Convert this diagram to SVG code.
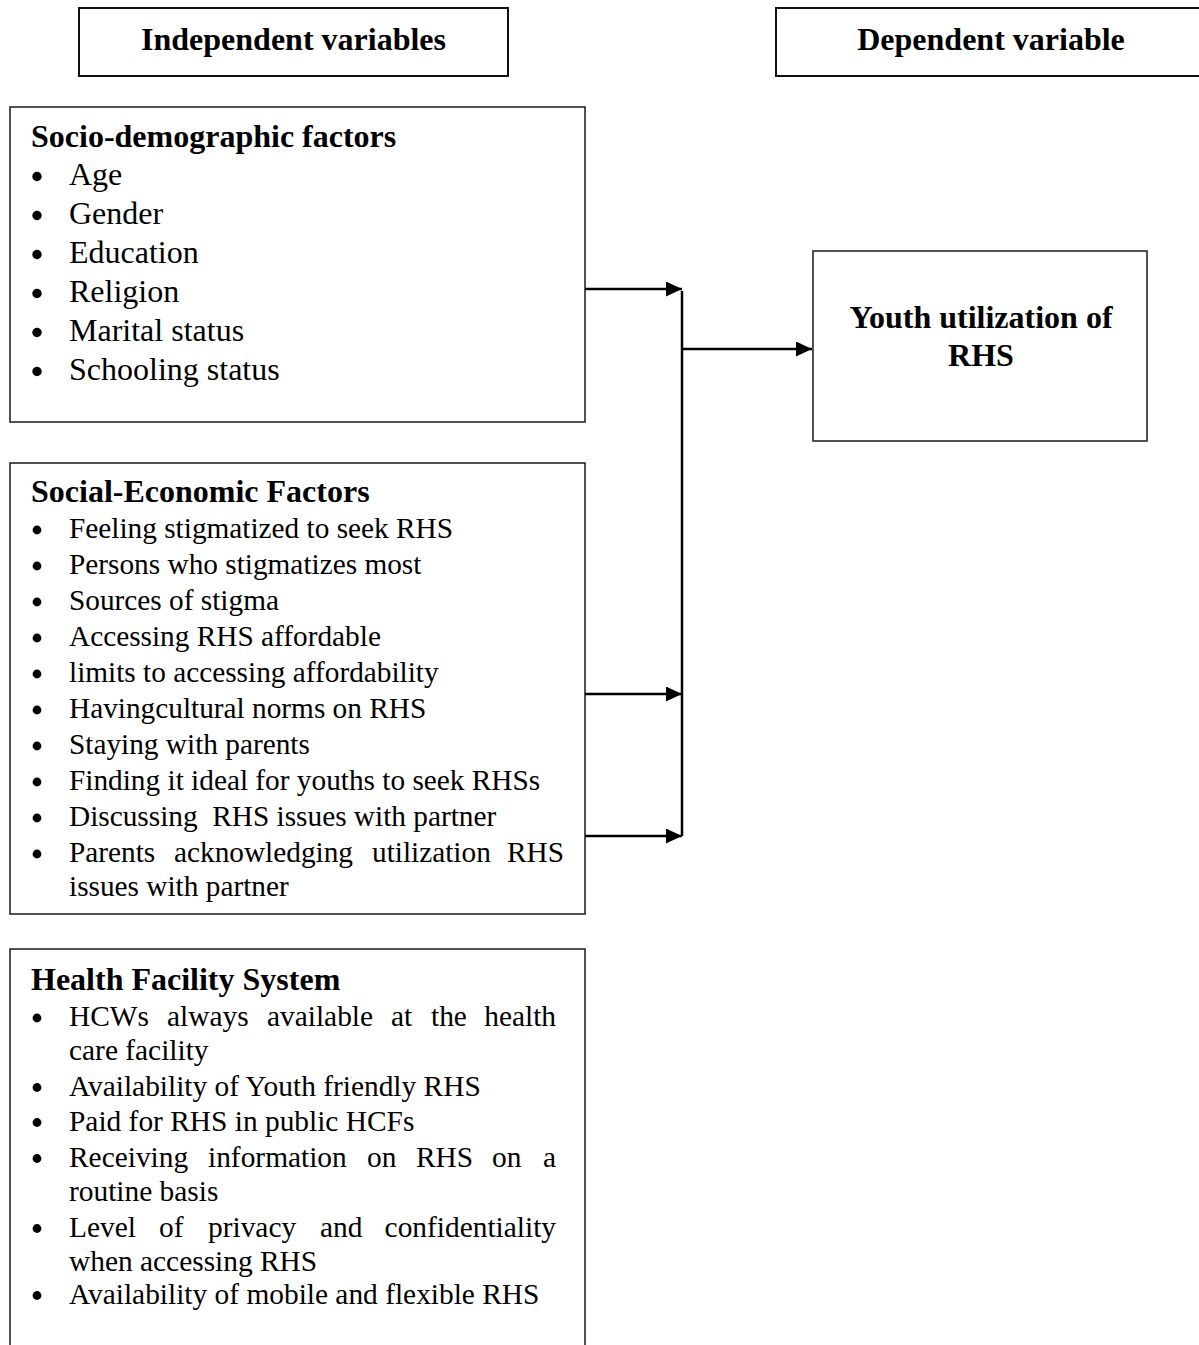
<svg xmlns="http://www.w3.org/2000/svg" width="1199" height="1345" viewBox="0 0 1199 1345">
<defs>
<style>
.box{fill:#fff;stroke:#1a1a1a;stroke-width:1.5}
.hbox{fill:#fff;stroke:#111;stroke-width:2}
.b{font-family:"Liberation Serif","Times New Roman",serif;font-weight:bold;font-size:32px;fill:#000}
.t1{font-family:"Liberation Serif","Times New Roman",serif;font-size:32px;fill:#000}
.t2{font-family:"Liberation Serif","Times New Roman",serif;font-size:29.3px;fill:#000}
.t3{font-family:"Liberation Serif","Times New Roman",serif;font-size:29.4px;fill:#000}
.bul{fill:#000}
.con{stroke:#000;stroke-width:2.5;fill:none}
</style>
<marker id="arr" viewBox="0 0 16 15" refX="16" refY="7.5" markerWidth="16" markerHeight="15" markerUnits="userSpaceOnUse" orient="auto">
<path d="M0,0 L16,7.5 L0,15 z" fill="#000"/>
</marker>
</defs>
<rect width="1199" height="1345" fill="#fff"/>

<g id="independent-header">
<rect class="hbox" x="79" y="8" width="429" height="68"/>
<text class="b" x="293.5" y="50" text-anchor="middle">Independent variables</text>
</g>

<g id="dependent-header">
<rect class="hbox" x="776" y="8" width="440" height="68"/>
<text class="b" x="991" y="50" text-anchor="middle">Dependent variable</text>
</g>

<g id="socio-demographic">
<rect class="box" x="10" y="107" width="575" height="315"/>
<text class="b" x="31" y="146.5">Socio-demographic factors</text>
<g class="bul">
<circle cx="37" cy="176.5" r="4.7"/>
<circle cx="37" cy="215.5" r="4.7"/>
<circle cx="37" cy="254.5" r="4.7"/>
<circle cx="37" cy="293.5" r="4.7"/>
<circle cx="37" cy="332.5" r="4.7"/>
<circle cx="37" cy="371.5" r="4.7"/>
</g>
<text class="t1" x="69" y="185">Age</text>
<text class="t1" x="69" y="224">Gender</text>
<text class="t1" x="69" y="263">Education</text>
<text class="t1" x="69" y="302">Religion</text>
<text class="t1" x="69" y="341">Marital status</text>
<text class="t1" x="69" y="380">Schooling status</text>
</g>

<g id="social-economic">
<rect class="box" x="10" y="463" width="575" height="451"/>
<text class="b" x="31" y="502">Social-Economic Factors</text>
<g class="bul">
<circle cx="37" cy="530" r="4.4"/>
<circle cx="37" cy="566" r="4.4"/>
<circle cx="37" cy="602" r="4.4"/>
<circle cx="37" cy="638" r="4.4"/>
<circle cx="37" cy="674" r="4.4"/>
<circle cx="37" cy="710" r="4.4"/>
<circle cx="37" cy="746" r="4.4"/>
<circle cx="37" cy="782" r="4.4"/>
<circle cx="37" cy="818" r="4.4"/>
<circle cx="37" cy="854" r="4.4"/>
</g>
<text class="t2" x="69" y="538">Feeling stigmatized to seek RHS</text>
<text class="t2" x="69" y="574">Persons who stigmatizes most</text>
<text class="t2" x="69" y="610">Sources of stigma</text>
<text class="t2" x="69" y="646">Accessing RHS affordable</text>
<text class="t2" x="69" y="682">limits to accessing affordability</text>
<text class="t2" x="69" y="718">Havingcultural norms on RHS</text>
<text class="t2" x="69" y="754">Staying with parents</text>
<text class="t2" x="69" y="790">Finding it ideal for youths to seek RHSs</text>
<text class="t2" x="69" y="826" style="white-space:pre">Discussing  RHS issues with partner</text>
<text class="t2" y="862"><tspan x="69">Parents</tspan> <tspan x="174">acknowledging</tspan> <tspan x="372">utilization</tspan> <tspan x="564" text-anchor="end">RHS</tspan></text>
<text class="t2" x="69" y="896">issues with partner</text>
</g>

<g id="health-facility">
<path class="box" d="M10,1350 L10,949 L585,949 L585,1350"/>
<text class="b" x="31" y="990">Health Facility System</text>
<g class="bul">
<circle cx="37" cy="1018" r="4.4"/>
<circle cx="37" cy="1087.5" r="4.4"/>
<circle cx="37" cy="1122.5" r="4.4"/>
<circle cx="37" cy="1158.5" r="4.4"/>
<circle cx="37" cy="1228.5" r="4.4"/>
<circle cx="37" cy="1295.5" r="4.4"/>
</g>
<text class="t3" y="1026"><tspan x="69">HCWs</tspan> <tspan x="167">always</tspan> <tspan x="267">available</tspan> <tspan x="391">at</tspan> <tspan x="431">the</tspan> <tspan x="556" text-anchor="end">health</tspan></text>
<text class="t3" x="69" y="1060">care facility</text>
<text class="t3" x="69" y="1096">Availability of Youth friendly RHS</text>
<text class="t3" x="69" y="1131">Paid for RHS in public HCFs</text>
<text class="t3" y="1167"><tspan x="69">Receiving</tspan> <tspan x="208">information</tspan> <tspan x="367">on</tspan> <tspan x="416">RHS</tspan> <tspan x="492">on</tspan> <tspan x="556" text-anchor="end">a</tspan></text>
<text class="t3" x="69" y="1201">routine basis</text>
<text class="t3" y="1237"><tspan x="69">Level</tspan> <tspan x="159">of</tspan> <tspan x="208">privacy</tspan> <tspan x="320">and</tspan> <tspan x="556" text-anchor="end">confidentiality</tspan></text>
<text class="t3" x="69" y="1271">when accessing RHS</text>
<text class="t3" x="69" y="1304">Availability of mobile and flexible RHS</text>
</g>

<g id="youth-utilization">
<rect class="box" x="813" y="251" width="334" height="190"/>
<text class="b" x="981" y="328" text-anchor="middle">Youth utilization of</text>
<text class="b" x="981" y="366" text-anchor="middle">RHS</text>
</g>

<g id="connectors">
<line class="con" x1="585" y1="289" x2="682" y2="289" marker-end="url(#arr)"/>
<line class="con" x1="585" y1="694" x2="682" y2="694" marker-end="url(#arr)"/>
<line class="con" x1="585" y1="836" x2="682" y2="836" marker-end="url(#arr)"/>
<line class="con" x1="682" y1="291" x2="682" y2="836"/>
<line class="con" x1="682" y1="349" x2="812" y2="349" marker-end="url(#arr)"/>
</g>
</svg>
